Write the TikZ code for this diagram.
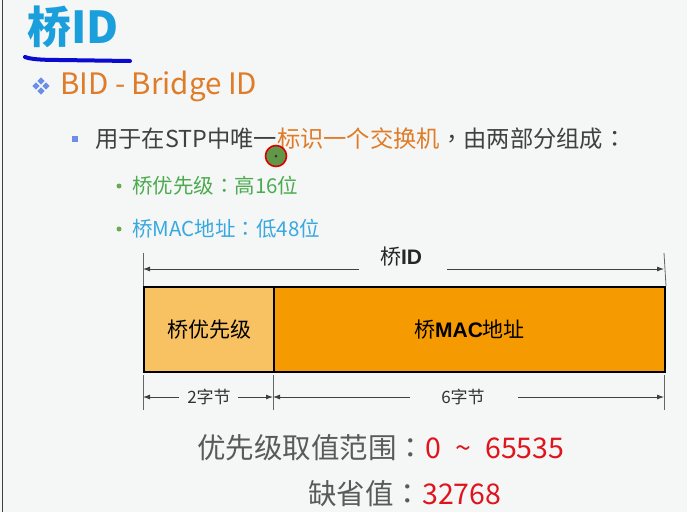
\documentclass[tikz,border=0pt]{standalone}
\usepackage{fontspec}
\setmainfont{Noto Sans CJK SC}
\newfontfamily\arialf{Liberation Sans}
\newfontfamily\punct{Noto Sans CJK TC}
\newcommand{\fcolon}{{\punct ：}}
\newcommand{\fcomma}{{\punct ，}}
\usetikzlibrary{arrows.meta}
\definecolor{bgc}{HTML}{F4F7F5}
\definecolor{titleblue}{HTML}{1A9FDC}
\definecolor{penblue}{HTML}{0A0AD0}
\definecolor{txtorange}{HTML}{E07B28}
\definecolor{txtgrey}{HTML}{404040}
\definecolor{txtgreen}{HTML}{4CAA50}
\definecolor{txtsky}{HTML}{38A8E0}
\definecolor{bulblue}{HTML}{6B8FE8}
\definecolor{bulgreen}{HTML}{6AAA50}
\definecolor{numred}{HTML}{E0141E}
\definecolor{lowgrey}{HTML}{5A5A5A}
\definecolor{lightorange}{HTML}{F8C262}
\definecolor{deeporange}{HTML}{F59A00}
\begin{document}
\begin{tikzpicture}[x=1pt,y=-1pt,
  txt/.style={inner sep=0pt, anchor=west},
  field/.style={draw=black, line width=2pt, anchor=north west, minimum height=85pt, inner sep=0pt, text=black},
  tickline/.style={draw=black!60, line width=0.8pt},
  dimline/.style={draw=black!75, line width=0.8pt, -{Latex[length=7pt,width=5pt]}},
  dimlabel/.style={inner sep=0pt, font=\fontsize{17}{20}\selectfont, text=black!80}
]
\useasboundingbox (0,0) rectangle (687,512);
\fill[bgc] (0,0) rectangle (687,512);
\draw[black!75, line width=1.5pt] (2.5,0) -- (2.5,512);

% title
\node[txt, text=titleblue, font=\fontsize{44}{46}\selectfont\bfseries] (title) at (27,27) {桥ID};
\draw[penblue, line width=4pt, line cap=round] (25,57) .. controls (30,59) and (40,60) .. (60,60) -- (130,61);

% diamond bullet
\foreach \dx/\dy in {0/-5,5/0,0/5,-5/0}
  \fill[bulblue] (41+\dx,86+\dy) +(0,-3.6) -- +(3.6,0) -- +(0,3.6) -- +(-3.6,0) -- cycle;
\node[txt, text=txtorange, font=\fontsize{29.5}{32}\selectfont] (bid) at (60,86) {BID - Bridge ID};

% line 2
\fill[bulblue] (72,136) rectangle (78,142);
\node[txt, text=txtgrey, font=\fontsize{23.3}{26}\selectfont] (l2) at (95,139) {用于在STP中唯一\textcolor{txtorange}{标识一个交换机}\fcomma 由两部分组成\fcolon};

% cursor
\filldraw[fill=bulgreen!90!black, draw=red!85!black, line width=1.6pt] (276,156) circle (10.5);
\fill[black!80] (276,156) circle (1.5);

% sub bullets
\fill[bulgreen] (119,186) circle (2.5);
\node[txt, text=txtgreen, font=\fontsize{20.5}{24}\selectfont] (l3) at (132,186) {桥优先级\fcolon 高16位};
\fill[bulgreen] (119,229) circle (2.5);
\node[txt, text=txtsky, font=\fontsize{20.5}{24}\selectfont] (l4) at (132,229) {桥MAC地址\fcolon 低48位};

% fields
\node[field, fill=lightorange, minimum width=130pt, font=\fontsize{21}{24}\selectfont] (pri) at (143,286) {桥优先级};
\node[field, fill=deeporange, minimum width=391pt, font=\fontsize{21}{24}\selectfont] (mac) at (273,286) {桥{\arialf\bfseries MAC}地址};

% top dimension
\coordinate (tl) at (143,253);
\coordinate (tr) at (664,253);
\draw[tickline] (pri.north west) -- (tl);
\draw[tickline] (mac.north east) -- (tr);
\node[inner sep=0pt, font=\fontsize{21}{24}\selectfont, text=black!85] (tid) at (401,257) {桥{\arialf\bfseries ID}};
\coordinate (ta) at (359,269);
\coordinate (tb) at (447,269);
\draw[dimline] (ta) -- (143,269);
\draw[dimline] (tb) -- (664,269);

% bottom dimension
\coordinate (bl) at (143,410);
\coordinate (bm) at (273,410);
\coordinate (br) at (664,410);
\draw[tickline] (143,375) -- (bl);
\draw[tickline] (273,375) -- (bm);
\draw[tickline] (664,375) -- (br);
\node[dimlabel] (two) at (209,397) {2字节};
\node[dimlabel] (six) at (463,397) {6字节};
\draw[dimline] (179,397) -- (143,397);
\draw[dimline] (238,397) -- (273,397);
\draw[dimline] (410,397) -- (273,397);
\draw[dimline] (518,397) -- (664,397);

% bottom texts
\node[txt, text=lowgrey, font=\fontsize{28.5}{32}\selectfont] (range) at (197,448) {优先级取值范围\fcolon\textcolor{numred}{0\hspace{0.5em}\char"007E\hspace{0.5em}65535}};
\node[txt, text=lowgrey, font=\fontsize{28.5}{32}\selectfont] (def) at (308,494) {缺省值\fcolon\textcolor{numred}{32768}};
\end{tikzpicture}
\end{document}
